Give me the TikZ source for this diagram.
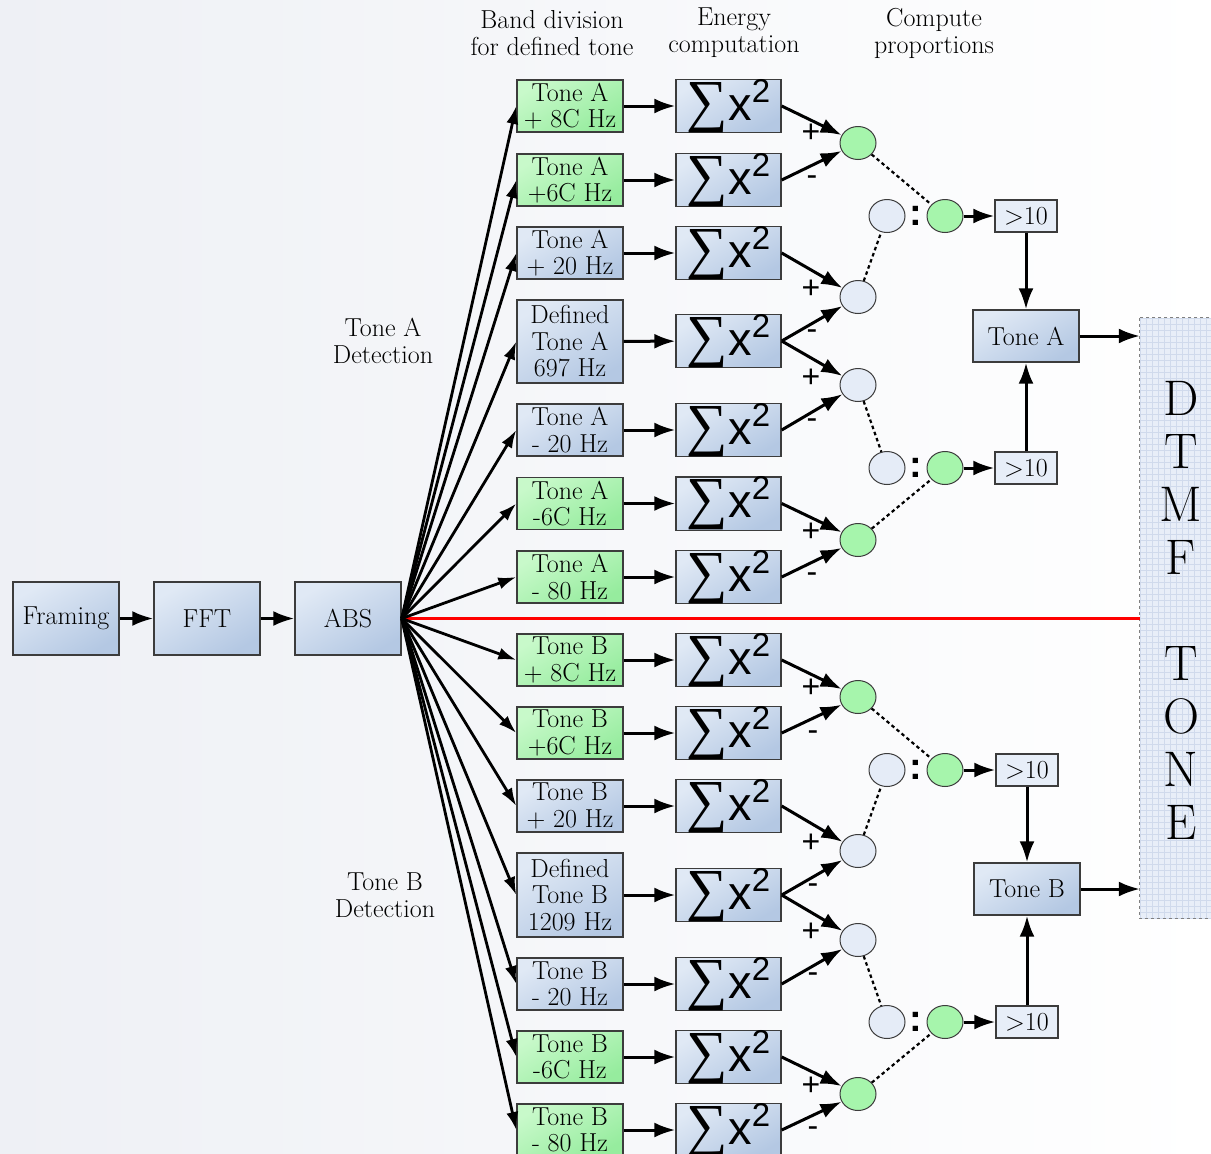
\documentclass[tikz,border=0pt]{standalone}
\usepackage{fontspec}
\usetikzlibrary{arrows.meta,shapes.geometric}
\newfontfamily\libserif{Liberation Serif}
\newfontfamily\libsans{Liberation Sans}
\definecolor{bgL}{RGB}{238,240,245}
\definecolor{blueT}{RGB}{224,233,245}
\definecolor{blueB}{RGB}{180,200,227}
\definecolor{greenT}{RGB}{200,249,202}
\definecolor{greenB}{RGB}{150,236,158}
\definecolor{circB}{RGB}{229,236,247}
\definecolor{circG}{RGB}{166,245,172}
\definecolor{bdr}{RGB}{60,60,60}
\definecolor{gtbox}{RGB}{231,238,248}
\definecolor{dtmfbg}{RGB}{232,238,248}
\definecolor{gridc}{RGB}{208,218,236}
\newcommand\fsA{\fontsize{26}{26.5}\selectfont}
\newcommand\sumtxt{{\libserif\fontsize{58}{58}\selectfont ∑}{\libsans\fontsize{47}{47}\selectfont x\raisebox{18pt}{\fontsize{33}{33}\selectfont 2}}}
\begin{document}
\begin{tikzpicture}[x=1pt,y=-1pt,
  box/.style={draw=bdr, line width=1.4pt, minimum width=106pt, minimum height=52pt, inner sep=0pt, align=center, font=\fsA},
  bbox/.style={box, top color=blueT, bottom color=blueB, shading angle=30},
  gbox/.style={box, top color=greenT, bottom color=greenB, shading angle=30},
  sbox/.style={bbox, minimum width=105pt},
  circ/.style={ellipse, draw=bdr, line width=1pt, minimum width=36pt, minimum height=33pt, inner sep=0pt},
  cb/.style={circ, fill=circB},
  cg/.style={circ, fill=circG},
  gt/.style={draw=bdr, line width=1.4pt, fill=gtbox, minimum width=62pt, minimum height=32pt, inner sep=0pt, font=\fsA},
  arr/.style={-{Latex[length=21pt,width=15pt]}, line width=3pt},
  fan/.style={-{Latex[length=18pt,width=12pt]}, line width=2.8pt},
  dotl/.style={line width=2.2pt, dash pattern=on 3.5pt off 3pt},
  pm/.style={font=\libsans\fontsize{32}{32}\selectfont, inner sep=0pt},
  colon/.style={font=\libsans\bfseries\fontsize{38}{38}\selectfont, inner sep=0pt},
  lab/.style={align=center, font=\fontsize{26}{27}\selectfont, inner sep=0pt}
]
\useasboundingbox (0,0) rectangle (1211,1154);
\shade[left color=bgL, right color=white] (0,0) rectangle (1211,1154);

% DTMF box
\node[minimum width=73pt, minimum height=600pt, inner sep=0pt, fill=dtmfbg] (dtmf) at (1176.5,618) {};
\begin{scope}
\clip (dtmf.north west) rectangle (dtmf.south east);
\draw[gridc, line width=0.5pt, step=6pt] (1138,316) grid (1216,920);
\end{scope}
\draw[gray, dashed, line width=0.8pt] (dtmf.north west) rectangle (dtmf.south east);
\node[align=center, inner sep=0pt, font=\fontsize{50}{53}\selectfont] (dtmftxt) at (1181,610) {D\\T\\M\\F\\[53pt]T\\O\\N\\E};

% headers
\node[lab] (h1) at (552,33) {Band division\\for defined tone};
\node[lab] (h2) at (734,33) {Energy\\computation};
\node[lab] (h3) at (934,33) {Compute\\proportions};
\node[lab] (ta) at (383,341) {Tone A\\Detection};
\node[lab] (tb) at (385,895) {Tone B\\Detection};

% main chain
\node[bbox, minimum height=73pt] (fr) at (66,618.5) {Framing};
\node[bbox, minimum height=73pt] (fft) at (207,618.5) {FFT};
\node[bbox, minimum height=73pt] (abs) at (348,618.5) {ABS};
\draw[arr] (fr) -- (fft);
\draw[arr] (fft) -- (abs);
\draw[red, line width=3.5pt] (abs.east) -- (abs.east -| dtmf.west);

% Tone A band boxes
\node[gbox] (a1) at (570,106) {Tone A\\+ 8C Hz};
\node[gbox] (a2) at (570,180) {Tone A\\+6C Hz};
\node[bbox] (a3) at (570,253) {Tone A\\+ 20 Hz};
\node[bbox, minimum height=83pt] (a4) at (570,341.5) {Defined\\Tone A\\697 Hz};
\node[bbox] (a5) at (570,430) {Tone A\\- 20 Hz};
\node[gbox] (a6) at (570,503.5) {Tone A\\-6C Hz};
\node[gbox] (a7) at (570,577) {Tone A\\- 80 Hz};
% Tone B band boxes
\node[gbox] (b1) at (570,660) {Tone B\\+ 8C Hz};
\node[gbox] (b2) at (570,733) {Tone B\\+6C Hz};
\node[bbox] (b3) at (570,806) {Tone B\\+ 20 Hz};
\node[bbox, minimum height=84pt] (b4) at (570,895) {Defined\\Tone B\\1209 Hz};
\node[bbox] (b5) at (570,984) {Tone B\\- 20 Hz};
\node[gbox] (b6) at (570,1057) {Tone B\\-6C Hz};
\node[gbox] (b7) at (570,1130) {Tone B\\- 80 Hz};

% sum boxes
\foreach \n/\y in {sa1/106,sa2/180,sa3/253,sa4/341,sa5/430,sa6/503.5,sa7/577,sb1/660,sb2/733,sb3/806,sb4/895,sb5/984,sb6/1057,sb7/1130}
  \node[sbox] (\n) at (728.5,\y) {\sumtxt};

\foreach \i in {1,...,7} {
  \draw[fan] (abs.east) -- (a\i.west);
  \draw[fan] (abs.east) -- (b\i.west);
  \draw[arr] (a\i) -- (sa\i);
  \draw[arr] (b\i) -- (sb\i);
}

% Tone A proportions
\node[cg] (ca1) at (858,143) {};
\node[cb] (ca2) at (858,297) {};
\node[cb] (ca3) at (858,385) {};
\node[cg] (ca4) at (858,540) {};
\node[cb] (pa1b) at (887,216) {};
\node[cg] (pa1g) at (945,216) {};
\node[cb] (pa2b) at (887,468) {};
\node[cg] (pa2g) at (945,468) {};
\node[colon] (ka1) at (916,216) {:};
\node[colon] (ka2) at (916,468) {:};
\node[gt] (gta1) at (1026,216) {>10};
\node[gt] (gta2) at (1026,468) {>10};
\node[bbox] (toneA) at (1026,336) {Tone A};

\draw[arr] (sa1.east) -- (ca1);
\draw[arr] (sa2.east) -- (ca1);
\draw[arr] (sa3.east) -- (ca2);
\draw[arr] (sa4.east) -- (ca2);
\draw[arr] (sa4.east) -- (ca3);
\draw[arr] (sa5.east) -- (ca3);
\draw[arr] (sa6.east) -- (ca4);
\draw[arr] (sa7.east) -- (ca4);
\draw[dotl] (ca1) -- (pa1g);
\draw[dotl] (ca2) -- (pa1b);
\draw[dotl] (ca3) -- (pa2b);
\draw[dotl] (ca4) -- (pa2g);
\draw[arr] (pa1g) -- (gta1);
\draw[arr] (pa2g) -- (gta2);
\draw[arr] (gta1) -- (toneA);
\draw[arr] (gta2) -- (toneA);
\draw[arr] (toneA) -- (toneA -| dtmf.west);

\node[pm] (pa1) at (811,133) {+};
\node[pm] (ma1) at (812,181) {-};
\node[pm] (pa2) at (811,289) {+};
\node[pm] (ma2) at (812,335) {-};
\node[pm] (pa3) at (811,378) {+};
\node[pm] (ma3) at (812,424) {-};
\node[pm] (pa4) at (811,532) {+};
\node[pm] (ma4) at (812,578) {-};

% Tone B proportions
\node[cg] (cb1) at (858,697) {};
\node[cb] (cb2) at (858,851) {};
\node[cb] (cb3) at (858,940) {};
\node[cg] (cb4) at (858,1094) {};
\node[cb] (pb1b) at (887,770) {};
\node[cg] (pb1g) at (945,770) {};
\node[cb] (pb2b) at (887,1022) {};
\node[cg] (pb2g) at (945,1022) {};
\node[colon] (kb1) at (916,770) {:};
\node[colon] (kb2) at (916,1022) {:};
\node[gt] (gtb1) at (1027,770) {>10};
\node[gt] (gtb2) at (1027,1022) {>10};
\node[bbox] (toneB) at (1027,889) {Tone B};

\draw[arr] (sb1.east) -- (cb1);
\draw[arr] (sb2.east) -- (cb1);
\draw[arr] (sb3.east) -- (cb2);
\draw[arr] (sb4.east) -- (cb2);
\draw[arr] (sb4.east) -- (cb3);
\draw[arr] (sb5.east) -- (cb3);
\draw[arr] (sb6.east) -- (cb4);
\draw[arr] (sb7.east) -- (cb4);
\draw[dotl] (cb1) -- (pb1g);
\draw[dotl] (cb2) -- (pb1b);
\draw[dotl] (cb3) -- (pb2b);
\draw[dotl] (cb4) -- (pb2g);
\draw[arr] (pb1g) -- (gtb1);
\draw[arr] (pb2g) -- (gtb2);
\draw[arr] (gtb1) -- (toneB);
\draw[arr] (gtb2) -- (toneB);
\draw[arr] (toneB) -- (toneB -| dtmf.west);

\node[pm] (pb1) at (811,688) {+};
\node[pm] (mb1) at (813,736) {-};
\node[pm] (pb2) at (811,843) {+};
\node[pm] (mb2) at (813,889) {-};
\node[pm] (pb3) at (811,932) {+};
\node[pm] (mb3) at (813,978) {-};
\node[pm] (pb4) at (811,1086) {+};
\node[pm] (mb4) at (813,1132) {-};
\end{tikzpicture}
\end{document}
